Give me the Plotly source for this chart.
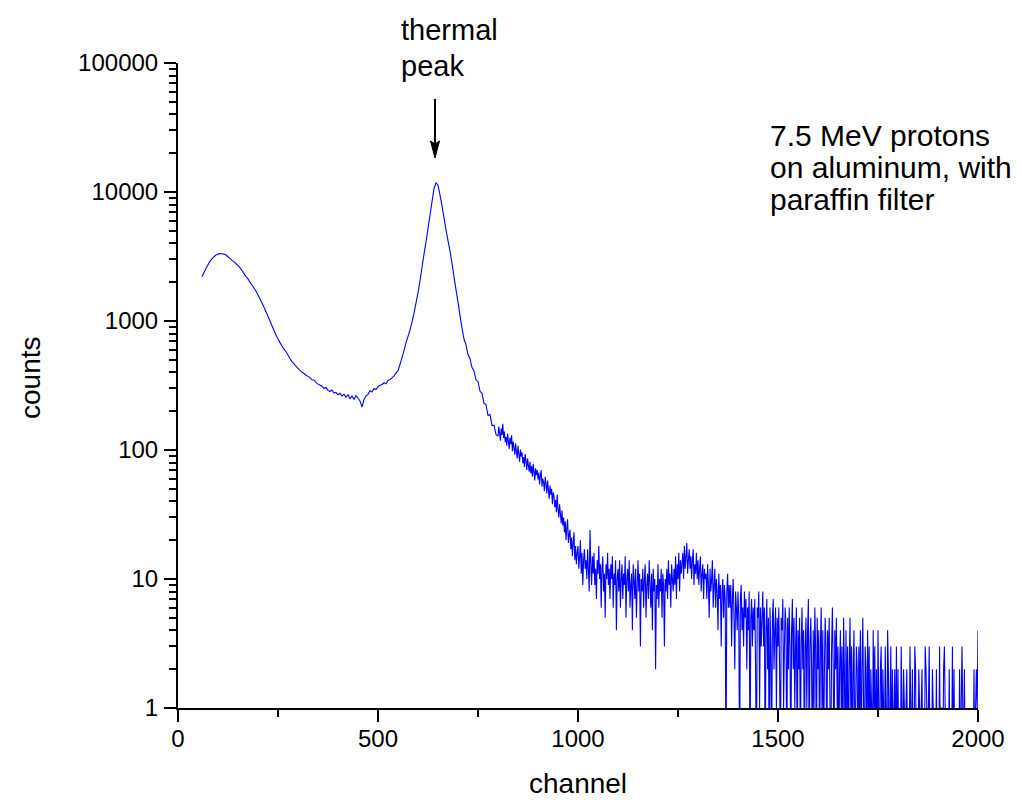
import numpy as np
import plotly.graph_objects as go

# ---------------- data ----------------
smooth_start, smooth_step = 60, 5          # channels 60 .. 795
counts_smooth = [
    2200, 2380, 2560, 2730, 2900, 3030, 3150, 3250, 3300, 3330,
    3320, 3300, 3250, 3150, 3060, 2950, 2870, 2780, 2700, 2580,
    2460, 2330, 2210, 2120, 2000, 1900, 1800, 1700, 1590, 1480,
    1380, 1280, 1180, 1090, 1000, 920, 845, 780, 725, 680,
    640, 605, 578, 545, 512, 484, 466, 446, 430, 414,
    400, 392, 380, 372, 364, 350, 348, 334, 324, 318,
    312, 300, 306, 290, 284, 292, 276, 280, 268, 275,
    262, 270, 256, 268, 250, 262, 246, 264, 252, 240,
    215, 246, 262, 270, 288, 282, 300, 294, 310, 318,
    322, 332, 326, 346, 352, 362, 376, 394, 412, 462,
    520, 590, 680, 760, 850, 980, 1150, 1380, 1650, 2050,
    2600, 3300, 4100, 5200, 6600, 8400, 10600, 11800, 11300, 9500,
    7800, 6300, 5100, 4200, 3500, 2800, 2200, 1750, 1400, 1100,
    880, 725, 655, 550, 510, 435, 410, 350, 340, 285,
    275, 230, 225, 185, 188, 155, 156, 132,
]

tail_start, tail_step = 800, 2             # channels 800 .. 2000
counts_tail = [
    # 800 - 998
    128, 152, 135, 118, 147, 131, 160, 124, 139, 115,
    126, 108, 134, 117, 102, 125, 111, 130, 98, 116,
    104, 92, 112, 97, 86, 108, 94, 81, 101, 89,
    96, 79, 88, 74, 93, 82, 70, 86, 76, 68,
    81, 66, 75, 62, 78, 68, 58, 72, 64, 70,
    59, 67, 54, 63, 70, 52, 60, 56, 48, 62,
    55, 46, 58, 49, 42, 53, 45, 50, 38, 47,
    44, 36, 41, 33, 45, 35, 30, 38, 32, 27,
    34, 26, 30, 23, 28, 20, 25, 29, 19, 22,
    24, 17, 21, 15, 19, 23, 14, 18, 13, 16,
    # 1000 - 1378
    18, 12, 15, 20, 11, 16, 9, 14, 17, 12,
    14, 10, 17, 12, 8, 24, 13, 9, 15, 11,
    16, 9, 12, 7, 14, 11, 18, 10, 13, 6,
    12, 15, 8, 11, 5, 13, 10, 16, 9, 12,
    7, 13, 10, 15, 6, 11, 9, 14, 4, 10,
    12, 8, 14, 6, 10, 13, 7, 11, 9, 15,
    5, 10, 12, 8, 14, 6, 9, 11, 4, 13,
    10, 7, 12, 5, 9, 14, 8, 11, 3, 10,
    8, 12, 6, 10, 13, 5, 9, 11, 7, 14,
    9, 6, 11, 4, 12, 8, 10, 2, 9, 7,
    13, 6, 10, 8, 12, 5, 11, 9, 3, 10,
    8, 12, 7, 14, 9, 11, 6, 13, 10, 8,
    12, 9, 15, 7, 13, 10, 16, 8, 14, 11,
    13, 16, 10, 18, 12, 15, 19, 11, 14, 17,
    12, 15, 10, 14, 17, 9, 13, 11, 16, 10,
    14, 9, 12, 15, 8, 11, 13, 7, 12, 10,
    11, 7, 13, 9, 5, 12, 8, 10, 14, 6,
    9, 12, 6, 10, 8, 4, 11, 7, 9, 3,
    8, 10, 5, 9, 7, 0, 8, 11, 6, 9,
    # 1380 - 1798
    6, 9, 3, 7, 10, 5, 2, 8, 6, 4,
    8, 5, 0, 7, 9, 4, 6, 3, 8, 5,
    7, 2, 6, 4, 8, 0, 5, 7, 3, 6,
    4, 7, 2, 0, 6, 5, 8, 1, 6, 3,
    5, 8, 3, 6, 0, 4, 7, 2, 5, 0,
    6, 3, 0, 5, 7, 2, 4, 6, 1, 5,
    3, 6, 2, 0, 5, 4, 7, 1, 3, 6,
    4, 0, 5, 2, 6, 3, 0, 4, 7, 2,
    5, 1, 3, 6, 0, 4, 2, 5, 0, 3,
    6, 2, 4, 0, 3, 5, 1, 4, 7, 0,
    3, 5, 2, 0, 4, 1, 6, 3, 0, 5,
    2, 4, 0, 3, 6, 1, 4, 0, 2, 5,
    3, 0, 4, 2, 5, 1, 0, 3, 6, 2,
    0, 4, 2, 5, 1, 3, 0, 2, 4, 1,
    3, 0, 5, 2, 0, 4, 1, 3, 0, 2,
    5, 1, 3, 0, 2, 4, 0, 1, 3, 2,
    0, 3, 1, 4, 0, 2, 5, 1, 0, 3,
    2, 0, 4, 1, 3, 0, 2, 1, 0, 4,
    1, 3, 0, 2, 0, 4, 1, 0, 2, 3,
    0, 2, 1, 0, 3, 1, 0, 4, 2, 0,
    1, 3, 0, 2, 0, 1, 2, 0, 3, 0,
    # 1800 - 2000
    2, 0, 1, 0, 3, 1, 0, 2, 1, 0,
    1, 2, 0, 1, 0, 3, 1, 0, 2, 0,
    0, 3, 2, 0, 1, 0, 2, 1, 0, 1,
    2, 0, 1, 0, 3, 2, 1, 0, 1, 3,
    0, 1, 0, 2, 1, 0, 1, 0, 2, 0,
    1, 0, 3, 0, 1, 1, 0, 2, 3, 1,
    0, 1, 0, 0, 2, 0, 1, 0, 3, 0,
    2, 0, 1, 0, 1, 0, 0, 2, 0, 1,
    3, 1, 0, 2, 0, 0, 1, 0, 1, 0,
    1, 0, 0, 1, 0, 2, 0, 1, 2, 1,
    4,
]

x_ticks = [0, 500, 1000, 1500, 2000]
x_minor_ticks = [250, 750, 1250, 1750]
y_ticks = [1, 10, 100, 1000, 10000, 100000]
y_tick_labels = ["1", "10", "100", "1000", "10000", "100000"]
y_minor_ticks = [k * 10 ** d for d in range(5) for k in range(2, 10)]

# ---------------- build series ----------------
ch = np.concatenate([
    smooth_start + smooth_step * np.arange(len(counts_smooth)),
    tail_start + tail_step * np.arange(len(counts_tail)),
])
counts = np.array(counts_smooth + counts_tail, dtype=float)
# zero counts cannot be shown on a log axis: draw them below the axis floor
y_disp = np.where(counts > 0, counts, 0.3)

FONT = "Arial, Liberation Sans, sans-serif"
OFF = 8                      # page body margin
W, H = 1014, 792
L, R, T, B = 170, 44, 55, 92
PW, PH = W - L - R, H - T - B
X0, Y0 = OFF + L, OFF + H - B   # plot-area origin on screen


def px(xp, yp):
    return (xp - X0) / PW, (Y0 - yp) / PH


fig = go.Figure()
fig.add_trace(go.Scatter(
    x=ch, y=y_disp, mode="lines",
    line=dict(color="#0000FF", width=1.1, simplify=False),
    hoverinfo="skip", showlegend=False,
))

axis_common = dict(
    showgrid=False, zeroline=False, showline=True, linecolor="black",
    linewidth=2, ticks="outside", ticklen=12, tickwidth=2, tickcolor="black",
    tickfont=dict(family=FONT, size=24, color="black"), mirror=False,
)
fig.update_xaxes(
    range=[0, 2000], tickmode="array", tickvals=x_ticks,
    ticklabelstandoff=-4,
    minor=dict(tickmode="array", tickvals=x_minor_ticks, ticks="outside",
               ticklen=7, tickwidth=2, tickcolor="black", showgrid=False),
    **axis_common,
)
fig.update_yaxes(
    type="log", range=[0, 5], tickmode="array", tickvals=y_ticks,
    ticktext=y_tick_labels, ticklabelstandoff=1,
    minor=dict(tickmode="array", tickvals=y_minor_ticks, ticks="outside",
               ticklen=7, tickwidth=2, tickcolor="black", showgrid=False),
    **axis_common,
)

ann = []


def text(t, xp, yp, size, xanchor="left", angle=0):
    x, y = px(xp, yp)
    ann.append(dict(text=t, x=x, y=y, xref="paper", yref="paper",
                    xanchor=xanchor, yanchor="middle", showarrow=False,
                    textangle=angle,
                    font=dict(family=FONT, size=size, color="black")))


text("channel", 578, 783, 28, xanchor="center")
text("counts", 30, 378, 28, xanchor="center", angle=-90)
text("thermal", 399, 30, 29)
text("peak", 399, 66, 29)
text("7.5 MeV protons", 768, 135, 30)
text("on aluminum, with", 768, 168, 30)
text("paraffin filter", 768, 200, 30)

# arrow pointing at the thermal peak
ax0, ay0 = px(435, 99)
ax1, ay1 = px(435, 146)
shapes = [dict(type="line", xref="paper", yref="paper", x0=ax0, y0=ay0,
               x1=ax1, y1=ay1, line=dict(color="black", width=2))]
hl, hr = px(430.5, 141), px(439.5, 141)
tip, notch = px(435, 158), px(435, 144)
shapes.append(dict(
    type="path", xref="paper", yref="paper",
    path=f"M {hl[0]},{hl[1]} L {tip[0]},{tip[1]} L {hr[0]},{hr[1]} L {notch[0]},{notch[1]} Z",
    fillcolor="black", line=dict(color="black", width=1)))

fig.update_layout(
    width=W, height=H, autosize=False,
    margin=dict(l=L, r=R, t=T, b=B, pad=0),
    paper_bgcolor="white", plot_bgcolor="white",
    annotations=ann, shapes=shapes, showlegend=False,
    font=dict(family=FONT, color="black"),
)

fig.write_html("out.html")
